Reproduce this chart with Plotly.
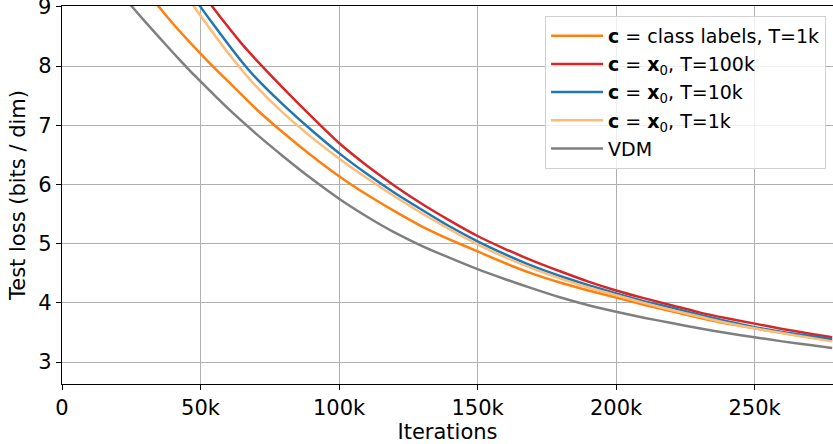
import plotly.graph_objects as go

# Iterations (in thousands) and test loss (bits/dim) for each run
x_class_1k = [30, 35, 40, 45, 50, 55, 60, 70, 80, 90, 100, 110, 120, 130, 140, 150, 160, 170, 180, 190, 200, 210, 220, 230, 240, 250, 260, 270, 278]
y_class_1k = [9.28, 9.0, 8.72, 8.46, 8.21, 7.97, 7.74, 7.28, 6.87, 6.49, 6.14, 5.83, 5.55, 5.29, 5.07, 4.87, 4.67, 4.49, 4.34, 4.21, 4.09, 3.97, 3.86, 3.75, 3.65, 3.57, 3.49, 3.42, 3.36]

x_x0_100k = [50, 55, 60, 65, 70, 80, 90, 100, 110, 120, 130, 140, 150, 160, 170, 180, 190, 200, 210, 220, 230, 240, 250, 260, 270, 278]
y_x0_100k = [9.27, 8.96, 8.66, 8.37, 8.11, 7.62, 7.15, 6.70, 6.32, 5.98, 5.67, 5.39, 5.13, 4.91, 4.71, 4.53, 4.36, 4.21, 4.08, 3.96, 3.84, 3.74, 3.65, 3.56, 3.48, 3.42]

x_x0_10k = [45, 50, 55, 60, 65, 70, 80, 90, 100, 110, 120, 130, 140, 150, 160, 170, 180, 190, 200, 210, 220, 230, 240, 250, 260, 270, 278]
y_x0_10k = [9.33, 9.0, 8.68, 8.37, 8.07, 7.80, 7.34, 6.92, 6.53, 6.18, 5.86, 5.57, 5.29, 5.04, 4.82, 4.62, 4.45, 4.30, 4.16, 4.03, 3.92, 3.80, 3.69, 3.59, 3.51, 3.44, 3.39]

x_x0_1k = [45, 50, 55, 60, 65, 70, 80, 90, 100, 110, 120, 130, 140, 150, 160, 170, 180, 190, 200, 210, 220, 230, 240, 250, 260, 270, 278]
y_x0_1k = [9.18, 8.85, 8.53, 8.22, 7.93, 7.66, 7.20, 6.80, 6.44, 6.11, 5.80, 5.51, 5.24, 4.99, 4.77, 4.58, 4.41, 4.26, 4.13, 4.00, 3.88, 3.77, 3.66, 3.57, 3.49, 3.41, 3.35]

x_vdm = [20, 25, 30, 35, 40, 45, 50, 60, 70, 80, 90, 100, 110, 120, 130, 140, 150, 160, 170, 180, 190, 200, 210, 220, 230, 240, 250, 260, 270, 278]
y_vdm = [9.29, 9.02, 8.75, 8.49, 8.23, 7.98, 7.74, 7.28, 6.86, 6.47, 6.10, 5.76, 5.46, 5.19, 4.96, 4.76, 4.57, 4.40, 4.24, 4.09, 3.96, 3.85, 3.75, 3.66, 3.57, 3.49, 3.42, 3.35, 3.29, 3.24]

series = [
    ("<b>c</b> = class labels, T=1k", x_class_1k, y_class_1k, "#ff7f0e"),
    ("<b>c</b> = <b>x</b><sub>0</sub>, T=100k", x_x0_100k, y_x0_100k, "#d62728"),
    ("<b>c</b> = <b>x</b><sub>0</sub>, T=10k", x_x0_10k, y_x0_10k, "#1f77b4"),
    ("<b>c</b> = <b>x</b><sub>0</sub>, T=1k", x_x0_1k, y_x0_1k, "#ffbb78"),
    ("VDM", x_vdm, y_vdm, "#7f7f7f"),
]

x_tickvals = [0, 50000, 100000, 150000, 200000, 250000]
x_ticktext = ["0", "50k", "100k", "150k", "200k", "250k"]
y_tickvals = [3, 4, 5, 6, 7, 8, 9]
y_ticktext = ["3", "4", "5", "6", "7", "8", ""]
y_top_label = "9"

fig = go.Figure()
for i, (name, xs, ys, color) in enumerate(series):
    fig.add_trace(go.Scatter(
        x=[v * 1000 for v in xs], y=ys, mode="lines", name=name,
        legendgroup=f"g{i}",
        line=dict(color=color, width=2.5, shape="spline", smoothing=0.5),
    ))

font = "DejaVu Sans"
fig.add_annotation(
    x=0, xref="paper", y=y_tickvals[-1], yref="y", text=y_top_label,
    showarrow=False, xanchor="right", yanchor="middle", xshift=-9,
    font=dict(family=font, size=21, color="black"),
)
fig.update_layout(
    width=833, height=444,
    margin=dict(l=62, r=0, t=6, b=60),
    plot_bgcolor="white", paper_bgcolor="white",
    font=dict(family=font, size=21, color="black"),
    showlegend=True,
    legend=dict(
        x=0.991, y=0.974, xanchor="right", yanchor="top",
        bgcolor="rgba(255,255,255,0.8)", bordercolor="#d0d0d0", borderwidth=1,
        font=dict(family=font, size=19, color="black"),
        tracegroupgap=0.5, itemwidth=52,
    ),
    xaxis=dict(
        range=[0, 278300], tickvals=x_tickvals, ticktext=x_ticktext,
        showgrid=True, gridcolor="#b0b0b0", gridwidth=1,
        showline=True, linecolor="black", linewidth=1.3, mirror=True,
        ticks="outside", ticklen=5, tickcolor="black",
        title=dict(text="Iterations", font=dict(size=21), standoff=2),
        zeroline=False, tickfont=dict(size=21),
    ),
    yaxis=dict(
        range=[2.63, 9.015], tickvals=y_tickvals, ticktext=y_ticktext,
        showgrid=True, gridcolor="#b0b0b0", gridwidth=1,
        showline=True, linecolor="black", linewidth=1.3, mirror=True,
        ticks="outside", ticklen=5, tickcolor="black",
        title=dict(text="Test loss (bits / dim)", font=dict(size=21), standoff=6),
        zeroline=False, tickfont=dict(size=21),
    ),
)

fig.write_html("out.html")
